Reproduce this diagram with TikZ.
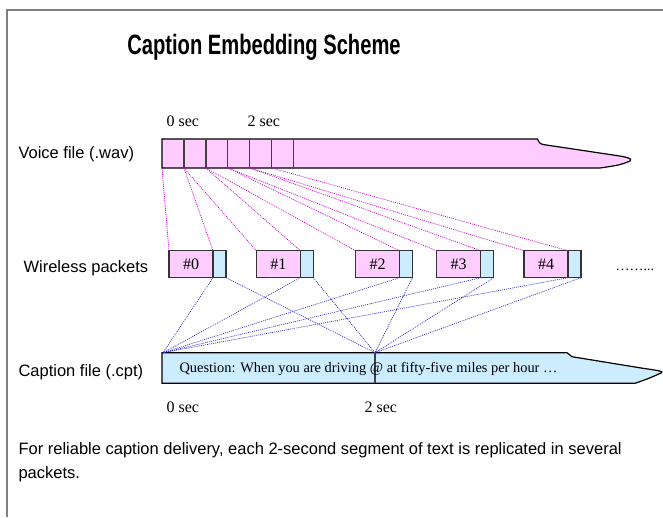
\documentclass[tikz,border=0pt]{standalone}
\usepackage{fontspec}
\setmainfont{Liberation Serif}
\setsansfont{Liberation Sans}
\usetikzlibrary{positioning}

\definecolor{wavpink}{RGB}{255,204,255}
\definecolor{cptblue}{RGB}{204,236,255}
\definecolor{wavlinkcol}{RGB}{204,0,204}
\definecolor{cptlinkcol}{RGB}{51,51,204}
\definecolor{framecol}{RGB}{128,128,128}

\begin{document}
\begin{tikzpicture}
   [x=1pt,y=-1pt,
    pktpink/.style={draw=black!80,line width=1.2pt,fill=wavpink,outer sep=0pt,inner sep=0pt,
                    minimum width=44pt,minimum height=27pt,font=\fontsize{16}{16}\selectfont},
    pktblue/.style={draw=black!80,line width=1.2pt,fill=cptblue,outer sep=0pt,inner sep=0pt,
                    minimum width=13pt,minimum height=27pt},
    wavline/.style={wavlinkcol,line width=0.7pt,dash pattern=on 1pt off 1pt},
    cptline/.style={cptlinkcol,line width=0.7pt,dash pattern=on 1pt off 1pt},
    rowtext/.style={anchor=west,font=\sffamily\fontsize{16.5}{20}\selectfont},
    sectext/.style={anchor=west,font=\fontsize{16}{16}\selectfont}]

   \useasboundingbox (0,0) rectangle (663,517);
   \draw[framecol,line width=2pt] (6.5,517) -- (6.5,9.5) -- (663,9.5);

   \node (title) at (264,47)
      {\scalebox{0.72}[1]{\sffamily\bfseries\fontsize{28}{32}\selectfont Caption Embedding Scheme}};

   % voice file
   \node[rowtext] (wavtxt) at (15,154) {Voice file (.wav)};
   \draw[black,line width=1.2pt,fill=wavpink]
      (162,139) -- (537.5,139) .. controls (539,142) and (539,143.5) .. (543,144.5)
      -- (613,155) .. controls (624,156.5) and (634,158.5) .. (630,161)
      .. controls (620,165) .. (600,168) -- (162,168) -- cycle;
   \foreach \i in {0,...,6}
      \coordinate (c\i) at ({162+21.95*\i},168);
   \foreach \i in {1,...,6}
      \draw[black!75,line width=1.2pt] (c\i) -- ++(0,-29);
   \node[sectext] (wav0) at (163,121) {0 sec};
   \node[sectext] (wav2) at (244,121) {2 sec};

   % packets
   \node[rowtext] (pkttxt) at (20,268) {Wireless packets};
   \foreach \i/\x in {0/191,1/278.3,2/377.5,3/458.7,4/546} {
      \node[pktpink] (p\i) at (\x,264.2) {\#\i};
      \node[pktblue,right=0pt of p\i] (b\i) {};
   }
   \node[anchor=west,font=\fontsize{14}{14}\selectfont] (more) at (612,270) {……...};

   % caption file
   \node[rowtext] (cpttxt) at (15,372) {Caption file (.cpt)};
   \draw[black,line width=1.2pt,fill=cptblue]
      (162,352.7) -- (567,352.7) .. controls (569,355.5) .. (572,356.7)
      -- (643,368.3) .. controls (655,370) and (665,371.5) .. (661.5,372.7)
      .. controls (650,378) .. (635,383.3) -- (162,383.3) -- cycle;
   \coordinate (t0) at (163,352.7);
   \coordinate (t2) at (375,352.7);
   \draw[black!75,line width=1.5pt] (t2) -- ++(0,30.6);
   \node[anchor=west,font=\fontsize{14.4}{14.4}\selectfont] (cpt) at (176,368.5)
      {Question: When you are driving @ at fifty-five miles per hour …};
   \node[sectext] (cpt0) at (163,407) {0 sec};
   \node[sectext] (cpt2) at (361,407) {2 sec};

   % links
   \foreach \i/\j in {0/1,1/2,2/3,3/4,4/5} {
      \draw[wavline] (c\i) -- (p\i.north west);
      \draw[wavline] (c\j) -- (p\i.north east);
   }
   \foreach \i in {0,...,4} {
      \draw[cptline] (p\i.south east) -- (t0);
      \draw[cptline] (b\i.south east) -- (t2);
   }

   \node[anchor=north west,align=left,font=\sffamily\fontsize{16.5}{24}\selectfont] (note) at (15,439)
      {For reliable caption delivery, each 2-second segment of text is replicated in several\\packets.};
\end{tikzpicture}
\end{document}
